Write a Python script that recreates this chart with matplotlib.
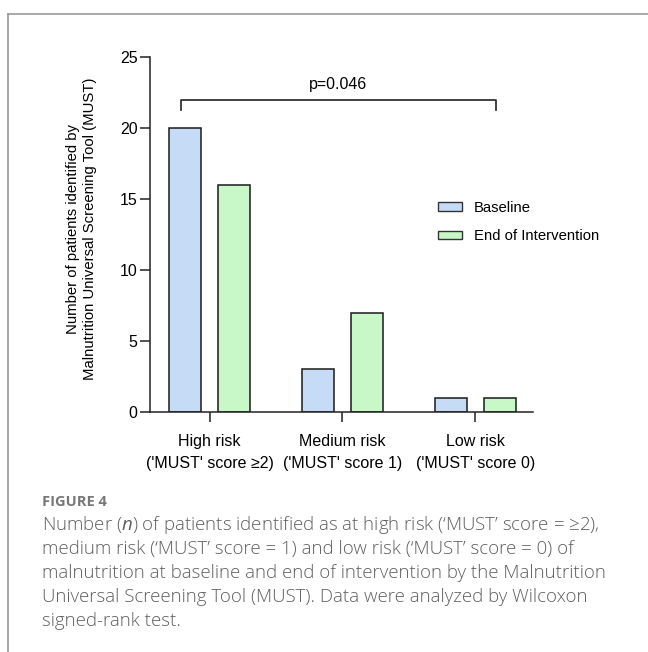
import numpy as np
import matplotlib.pyplot as plt
from matplotlib.patches import Patch

categories = ["High risk\n('MUST' score \u22652)", "Medium risk\n('MUST' score 1)", "Low risk\n('MUST' score 0)"]
baseline = [20, 3, 1]
end_intervention = [16, 7, 1]
series_names = ["Baseline", "End of Intervention"]
p_text = "p=0.046"

caption_title = "FIGURE 4"
caption_lines = [
    "Number ($n$) of patients identified as at high risk (\u2018MUST\u2019 score = \u22652),",
    "medium risk (\u2018MUST\u2019 score = 1) and low risk (\u2018MUST\u2019 score = 0) of",
    "malnutrition at baseline and end of intervention by the Malnutrition",
    "Universal Screening Tool (MUST). Data were analyzed by Wilcoxon",
    "signed-rank test.",
]

plt.rcParams['font.family'] = ['Liberation Sans', 'DejaVu Sans']
plt.rcParams['mathtext.fontset'] = 'custom'
plt.rcParams['mathtext.it'] = 'Open Sans:italic'
plt.rcParams['mathtext.rm'] = 'Open Sans'

fig = plt.figure(figsize=(6.48, 6.52), dpi=100)

# outer frame (top and left lines only)
fig.add_artist(plt.Line2D([8 / 648, 1], [1 - 14 / 652, 1 - 14 / 652], color='#9a9a9a', lw=1.2))
fig.add_artist(plt.Line2D([8 / 648, 8 / 648], [0, 1 - 14 / 652], color='#9a9a9a', lw=1.2))

# axes: x from 150 to 533 px, y from 57 to 412 px
ax = fig.add_axes([150 / 648, 1 - 412 / 652, (533 - 150) / 648, (412 - 57) / 652])

x = np.arange(len(categories))
w = 0.24
off = 0.185
ax.bar(x - off, baseline, w, color='#c6dbf5', edgecolor='#1a1a1a', linewidth=1.1, label=series_names[0])
ax.bar(x + off, end_intervention, w, color='#c8f8c8', edgecolor='#1a1a1a', linewidth=1.1, label=series_names[1])

ax.set_xlim(-0.45, 2.435)
ax.set_ylim(0, 25)
ax.set_yticks([0, 5, 10, 15, 20, 25])
ax.set_xticks(x)
ax.set_xticklabels(categories, fontsize=11.5, linespacing=1.55)
ax.tick_params(axis='y', labelsize=11.5, length=7, width=1.1, color='#222222', pad=2)
ax.tick_params(axis='x', length=7, width=1.1, color='#222222', pad=9)
for s in ['top', 'right']:
    ax.spines[s].set_visible(False)
ax.spines['left'].set_linewidth(1.1)
ax.spines['bottom'].set_linewidth(1.1)
ax.spines['left'].set_color('#222222')
ax.spines['bottom'].set_color('#222222')

ax.set_ylabel("Number of patients identified by\nMalnutrition Universal Screening Tool (MUST)",
              fontsize=10.7, linespacing=1.25)
ax.yaxis.set_label_coords(-0.138, 0.515)

# significance bracket
bx0, bx1, by, bh = -0.22, 2.16, 22.0, 0.75
ax.plot([bx0, bx0, bx1, bx1], [by - bh, by, by, by - bh], color='#333333', lw=1.3, clip_on=False)
ax.text((bx0 + bx1) / 2, by + 0.5, p_text, ha='center', va='bottom', fontsize=11.5)

handles = [Patch(facecolor='#c6dbf5', edgecolor='#333333', label=series_names[0]),
           Patch(facecolor='#c8f8c8', edgecolor='#333333', label=series_names[1])]
ax.legend(handles=handles, loc='upper left', bbox_to_anchor=(438 / 648, 1 - 201 / 652),
          bbox_transform=fig.transFigure, frameon=False, borderpad=0, borderaxespad=0,
          fontsize=10.7, handlelength=1.6, handleheight=0.5, labelspacing=0.95, handletextpad=0.8)

fig.text(42 / 648, 1 - 502 / 652, caption_title, fontsize=10.5, color='#777777',
         family=['Open Sans', 'DejaVu Sans'], va='center', fontweight='bold')
for i, line in enumerate(caption_lines):
    fig.text(42 / 648, 1 - (525 + i * 24) / 652, line, fontsize=13.4, color='#5f5f5f',
             family=['Open Sans', 'DejaVu Sans'], va='center', fontweight='light')

fig.savefig('out.png', dpi=100)
